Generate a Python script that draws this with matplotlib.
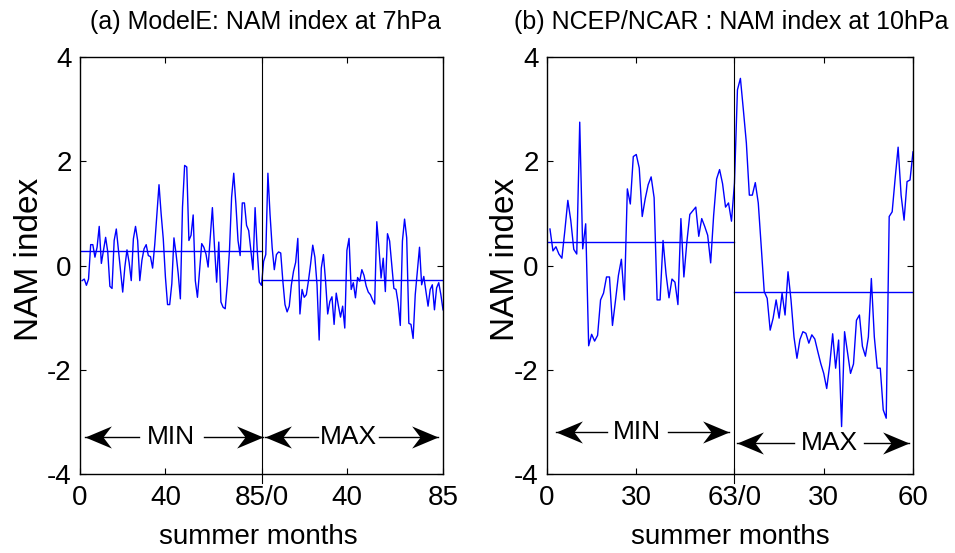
import numpy as np
import matplotlib
matplotlib.use("Agg")
import matplotlib.pyplot as plt
from matplotlib.path import Path

plt.rcParams['font.family'] = ['Liberation Sans', 'DejaVu Sans']
plt.rcParams['axes.unicode_minus'] = False

# ModelE NAM index at 7hPa, summer months in solar MIN and solar MAX
model_min = [-0.29, -0.26, -0.38, -0.26, 0.40, 0.40, 0.16, 0.35, 0.75, 0.04,
             0.29, 0.54, 0.26, -0.40, -0.44, 0.48, 0.70, 0.29, -0.13, -0.51,
             -0.03, 0.30, 0.06, -0.29, 0.51, 0.75, 0.48, -0.29, 0.10, 0.32,
             0.40, 0.19, 0.17, -0.05, 0.40, 0.99, 1.55, 0.99, 0.51, -0.22,
             -0.75, -0.75, -0.35, 0.53, 0.22, -0.16, -0.64, 1.12, 1.92, 1.89,
             0.48, 0.58, 0.97, -0.29, -0.61, -0.10, 0.42, 0.35, 0.22, -0.03,
             0.54, 1.11, 0.35, -0.32, 0.45, -0.70, -0.80, -0.83, -0.35, 0.29,
             1.31, 1.77, 1.18, 0.48, 0.19, 1.20, 1.20, 0.77, 0.67, 0.29,
             -0.08, 1.11, 0.29, -0.32, -0.38]
model_max = [0.08, 0.21, 1.77, 0.98, 0.34, -0.08, 0.21, 0.26, 0.24, -0.30,
             -0.75, -0.89, -0.78, -0.37, -0.11, 0.06, 0.52, -0.93, -0.46, -0.61,
             -0.56, -0.29, 0.03, 0.39, 0.16, -0.37, -1.43, -0.05, 0.21, -0.30,
             -0.93, -0.69, -0.60, -1.13, -0.53, -0.77, -0.99, -0.78, -1.20, 0.29,
             0.52, -0.46, -0.33, -0.62, -0.23, -0.30, -0.08, -0.19, -0.39, -0.51,
             -0.56, -0.66, -0.74, 0.84, 0.34, -0.24, 0.14, -0.50, 0.61, 0.47,
             0.02, -0.44, -0.46, -0.72, -1.15, 0.47, 0.89, 0.53, -1.11, -1.13,
             -1.40, -0.56, -0.11, 0.35, -0.37, -0.21, -0.50, -0.78, -0.46, -0.37,
             -0.85, -0.43, -0.33, -0.56, -0.85]
model_min_mean = 0.27
model_max_mean = -0.27

# NCEP/NCAR reanalysis NAM index at 10hPa
ncep_min = [0.70, 0.28, 0.36, 0.22, 0.14, 0.67, 1.25, 0.86, 0.31, 0.22,
            2.75, 0.32, 0.80, -1.54, -1.32, -1.45, -1.34, -0.66, -0.53, -0.22,
            -0.22, -1.15, -0.68, -0.19, 0.12, -0.66, 1.47, 1.18, 2.09, 2.13,
            1.87, 0.94, 1.28, 1.55, 1.70, 1.30, -0.66, -0.66, 0.48, -0.16,
            -0.62, -0.26, -0.32, -0.75, 0.90, -0.22, 0.45, 0.98, 1.05, 1.12,
            0.56, 0.90, 0.75, 0.58, 0.05, 0.96, 1.66, 1.84, 1.57, 1.12,
            1.20, 0.85, 1.58]
ncep_max = [3.37, 3.59, 2.98, 2.35, 1.35, 1.35, 1.59, 1.20, 0.36, -0.50,
            -0.63, -1.24, -1.01, -0.66, -1.01, -0.53, -0.95, -0.12, -0.66, -1.37,
            -1.78, -1.42, -1.27, -1.30, -1.49, -1.33, -1.41, -1.65, -1.88, -2.07,
            -2.36, -1.91, -1.31, -1.97, -1.43, -3.09, -1.27, -1.67, -2.07, -1.89,
            -1.05, -0.95, -1.55, -1.74, -1.37, -0.25, -1.37, -1.97, -1.97, -2.77,
            -2.93, 0.94, 1.03, 1.67, 2.27, 1.35, 0.87, 1.61, 1.64, 2.18]
ncep_min_mean = 0.45
ncep_max_mean = -0.50

model_tick_pos = [0, 40, 85, 125, 170]
model_tick_labels = ['0', '40', '85/0', '40', '85']
ncep_tick_pos = [0, 30, 63, 93, 123]
ncep_tick_labels = ['0', '30', '63/0', '30', '60']

BLUE = '#0000ff'
FS = 20

# notched arrow heads, tip at the origin
head_r = Path([(0, 0), (-1, 0.42), (-0.68, 0), (-1, -0.42), (0, 0)],
              [Path.MOVETO, Path.LINETO, Path.LINETO, Path.LINETO, Path.CLOSEPOLY])
head_l = Path([(0, 0), (1, 0.42), (0.68, 0), (1, -0.42), (0, 0)],
              [Path.MOVETO, Path.LINETO, Path.LINETO, Path.LINETO, Path.CLOSEPOLY])


def span_arrow(ax, x0, x1, y, label, gap0, gap1):
    ax.plot([x0, gap0], [y, y], color='k', lw=1)
    ax.plot([gap1, x1], [y, y], color='k', lw=1)
    ax.plot([x0], [y], marker=head_l, ms=38, color='k', mew=0)
    ax.plot([x1], [y], marker=head_r, ms=38, color='k', mew=0)
    ax.text((gap0 + gap1) / 2, y, label, ha='center', va='center', fontsize=19)


def draw_panel(ax, vmin, vmax, mmin, mmax, tick_pos, tick_labels):
    n1, n2 = len(vmin), len(vmax)
    x = np.arange(1, n1 + n2 + 1)
    ax.plot(x, np.concatenate([vmin, vmax]), color=BLUE, lw=1)
    ax.plot([0, n1], [mmin, mmin], color=BLUE, lw=1)
    ax.plot([n1, n1 + n2], [mmax, mmax], color=BLUE, lw=1)
    ax.plot([n1, n1], [-4.17, 4], color='k', lw=0.8, clip_on=False)
    ax.set_xlim(0, n1 + n2)
    ax.set_ylim(-4, 4)
    ax.set_xticks(tick_pos)
    ax.set_xticklabels(tick_labels)
    ax.set_yticks([-4, -2, 0, 2, 4])
    ax.tick_params(direction='in', length=4, width=0.8, labelsize=FS,
                   top=True, right=True, pad=6)
    ax.tick_params(axis='x', pad=8)
    for s in ax.spines.values():
        s.set_linewidth(1)


fig = plt.figure(figsize=(9.55, 5.53), dpi=100)
ax1 = fig.add_axes([80 / 955, 1 - 474 / 553, 363 / 955, 417 / 553])
ax2 = fig.add_axes([547 / 955, 1 - 474 / 553, 366 / 955, 417 / 553])

draw_panel(ax1, model_min, model_max, model_min_mean, model_max_mean,
           model_tick_pos, model_tick_labels)
draw_panel(ax2, ncep_min, ncep_max, ncep_min_mean, ncep_max_mean,
           ncep_tick_pos, ncep_tick_labels)

span_arrow(ax1, 2.3, 85.5, -3.29, 'MIN', 27.5, 58.0)
span_arrow(ax1, 86.5, 167.7, -3.29, 'MAX', 111.5, 139.8)
span_arrow(ax2, 3.0, 61.0, -3.2, 'MIN', 20.0, 40.5)
span_arrow(ax2, 64.0, 121.5, -3.41, 'MAX', 83.0, 106.5)

fig.text(265 / 955, 1 - 22 / 553, '(a) ModelE: NAM index at 7hPa',
         ha='center', va='center', fontsize=18)
fig.text(731 / 955, 1 - 22 / 553, '(b) NCEP/NCAR : NAM index at 10hPa',
         ha='center', va='center', fontsize=18)
for xc in (30, 505):
    fig.text(xc / 955, 1 - 259 / 553, 'NAM index', rotation=90,
             ha='center', va='center', fontsize=24)
for xc in (258, 730):
    fig.text(xc / 955, 1 - 537 / 553, 'summer months',
             ha='center', va='center', fontsize=20)

fig.savefig('out.png', dpi=100)
